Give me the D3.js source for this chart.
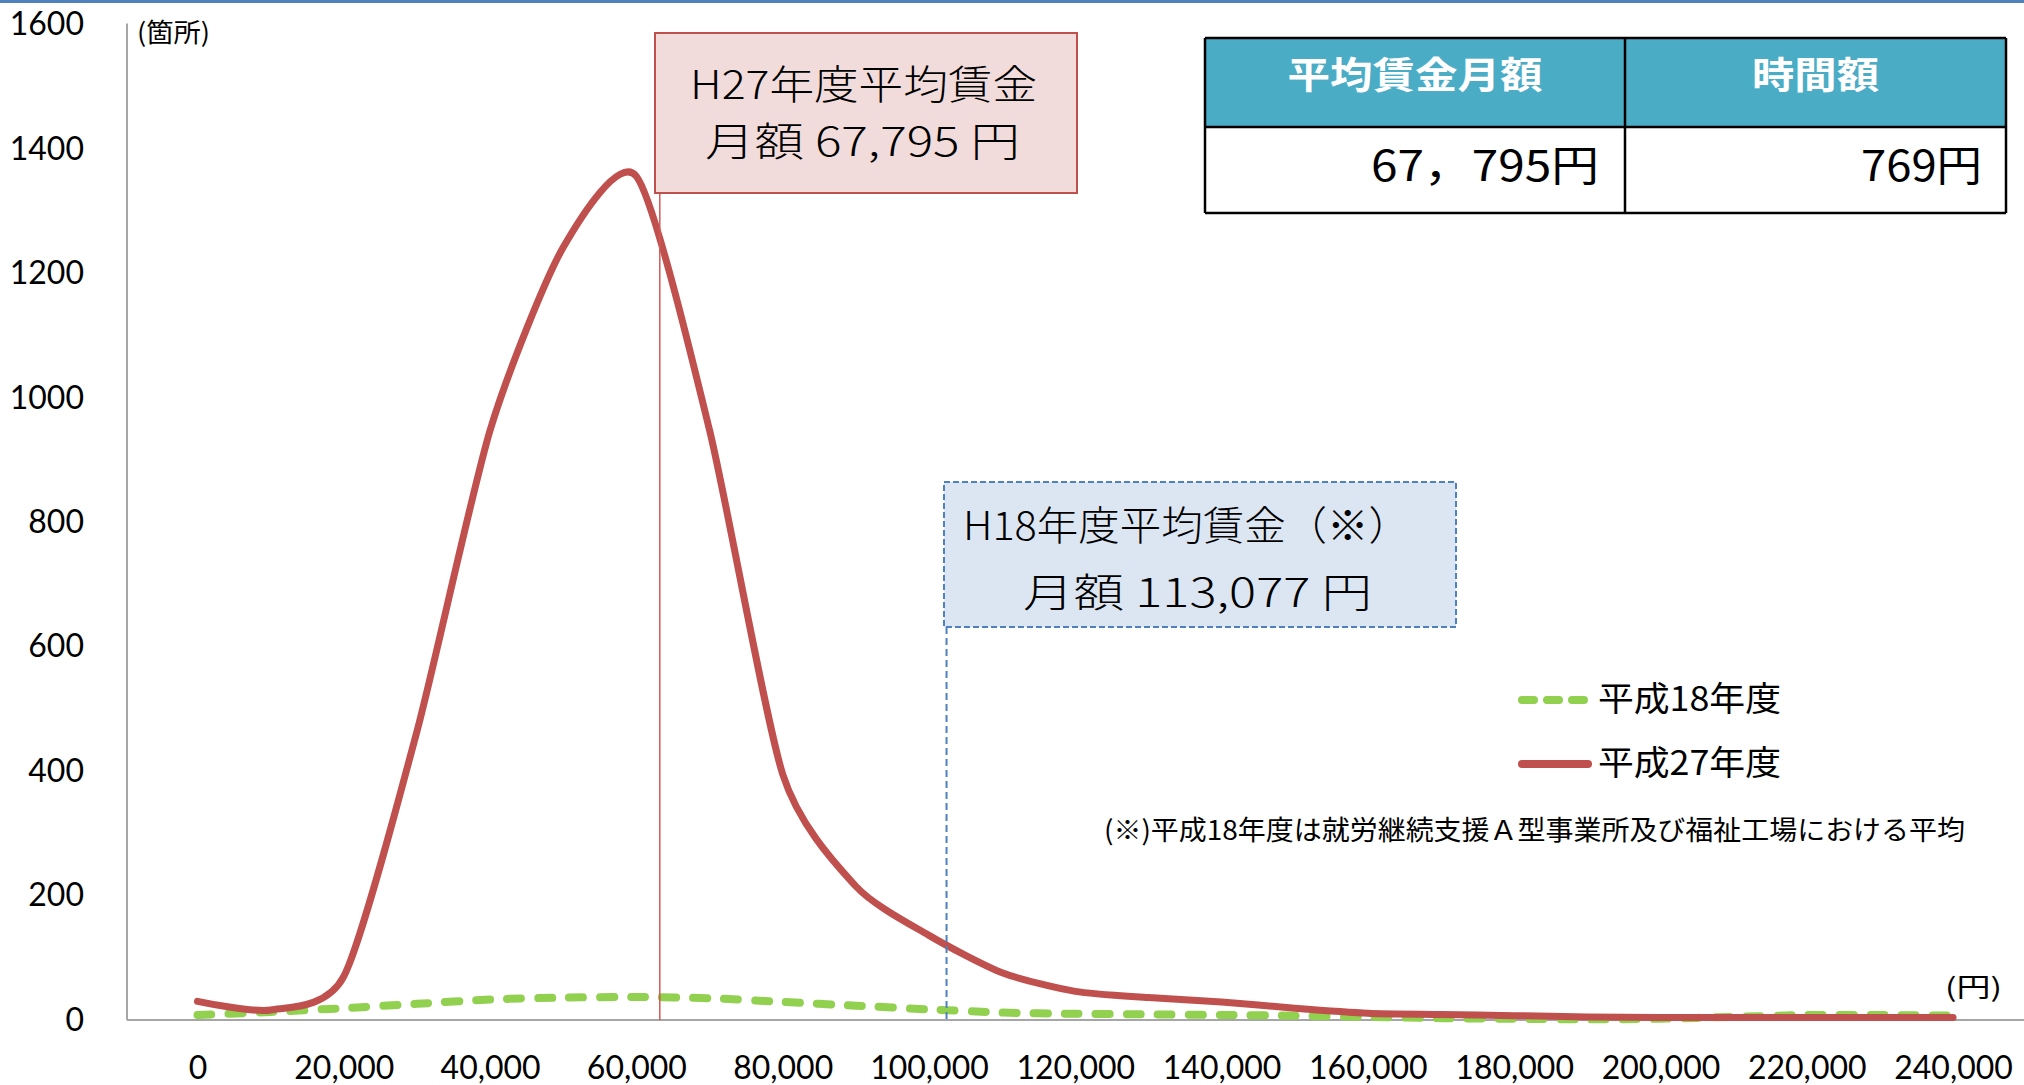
<!DOCTYPE html>
<html>
<head>
<meta charset="utf-8">
<script src="https://cdnjs.cloudflare.com/ajax/libs/d3/7.8.5/d3.min.js"></script>
<style>
  body { margin: 0; background: #fff; }
  svg { display: block; }
  .axis .tick text { font-family: Lato, "Liberation Sans", sans-serif; font-size: 32px; fill: #000; }
  .axis path { stroke: #a6a6a6; stroke-width: 2px; }
  .jp { font-family: "Noto Sans CJK JP", sans-serif; fill: #000; }
</style>
</head>
<body>
<svg id="chart"></svg>
<script>
// monthly wage steps (yen)
const wageSteps = [0, 10000, 20000, 30000, 40000, 50000, 60000, 70000, 80000, 90000, 100000, 110000,
  120000, 130000, 140000, 150000, 160000, 170000, 180000, 190000, 200000, 210000, 220000, 230000, 240000];
// number of offices
const seriesH27 = [30, 16, 70, 464, 948, 1242, 1356, 948, 395, 215, 136, 76,
  46, 36, 29, 19, 11, 9, 7, 5, 4, 4, 4, 4, 4];
const seriesH18 = [8, 13, 19, 26, 33, 36, 37, 35, 29, 23, 17, 12,
  10, 9, 8, 7, 5, 3, 2, 1, 2, 5, 8, 8, 7];
const seriesNames = ['平成18年度', '平成27年度'];
const yTicks = [0, 200, 400, 600, 800, 1000, 1200, 1400, 1600];
const xTicks = [0, 20000, 40000, 60000, 80000, 100000, 120000, 140000, 160000, 180000, 200000, 220000, 240000];
// where the average-marker lines sit on the wage axis
const markH27 = 63200;
const markH18 = 102400;
const tableHead = ['平均賃金月額', '時間額'];
const tableBody = ['67，795円', '769円'];

const W = 2024, H = 1085;
const svg = d3.select('#chart').attr('width', W).attr('height', H);

svg.append('rect').attr('width', W).attr('height', H).attr('fill', '#fff');
svg.append('rect').attr('width', W).attr('height', 3).attr('fill', '#4f81bd');

const x = d3.scaleLinear().domain([-9640, 249700]).range([127, 2024]);
const y = d3.scaleLinear().domain([0, 1600]).range([1020, 24.5]);

// axes
svg.append('g')
    .attr('class', 'axis')
    .attr('transform', `translate(0,${y(0)})`)
    .call(d3.axisBottom(x).tickValues(xTicks).tickSize(0).tickPadding(36).tickFormat(d3.format(',')))
    .call(g => g.select('.domain').attr('d', `M${x.range()[0]},0H${x.range()[1]}`));

svg.append('g')
    .attr('class', 'axis')
    .attr('transform', `translate(${x.range()[0]},0)`)
    .call(d3.axisLeft(y).tickValues(yTicks).tickSize(0).tickPadding(43).tickFormat(d3.format('d')))
    .call(g => g.select('.domain').attr('d', `M0,${y(0)}V${y(1600) - 1}`));

svg.append('text').attr('class', 'jp')
    .attr('x', 137).attr('y', 30).attr('dominant-baseline', 'central')
    .attr('font-size', 26).attr('textLength', 73).attr('lengthAdjust', 'spacingAndGlyphs')
    .text('(箇所)');
svg.append('text').attr('class', 'jp')
    .attr('x', 1945).attr('y', 985).attr('dominant-baseline', 'central')
    .attr('font-size', 26).attr('textLength', 57).attr('lengthAdjust', 'spacingAndGlyphs')
    .text('(円)');

// series
const line = d3.line()
    .x((d, i) => x(wageSteps[i]))
    .y(d => y(d))
    .curve(d3.curveCardinal.tension(0.3));

svg.append('path')
    .datum(seriesH18)
    .attr('d', line)
    .attr('fill', 'none')
    .attr('stroke', '#92d050')
    .attr('stroke-width', 8)
    .attr('stroke-linecap', 'round')
    .attr('stroke-dasharray', '14 17');

svg.append('path')
    .datum(seriesH27)
    .attr('d', line)
    .attr('fill', 'none')
    .attr('stroke', '#c0504d')
    .attr('stroke-width', 7)
    .attr('stroke-linecap', 'round')
    .attr('stroke-linejoin', 'round');

// average marker lines
svg.append('line')
    .attr('x1', x(markH27)).attr('x2', x(markH27))
    .attr('y1', 193).attr('y2', y(0))
    .attr('stroke', '#d05a57').attr('stroke-width', 1.5);

svg.append('line')
    .attr('x1', x(markH18)).attr('x2', x(markH18))
    .attr('y1', 627).attr('y2', y(0))
    .attr('stroke', '#4f81bd').attr('stroke-width', 2)
    .attr('stroke-dasharray', '7 4');

// annotation boxes
function note(bx, by, bw, bh, fill, stroke, dash, lines) {
  svg.append('rect')
      .attr('x', bx).attr('y', by).attr('width', bw).attr('height', bh)
      .attr('fill', fill).attr('stroke', stroke).attr('stroke-width', 2)
      .attr('stroke-dasharray', dash);
  lines.forEach(l => {
    svg.append('text').attr('class', 'jp')
        .attr('x', l.x).attr('y', l.y).attr('dominant-baseline', 'central')
        .attr('font-size', 40).attr('font-weight', 300)
        .attr('textLength', l.w).attr('lengthAdjust', 'spacingAndGlyphs')
        .text(l.t);
  });
}

note(655, 33, 422, 160, '#f2dcdb', '#c0504d', null, [
  {t: 'H27年度平均賃金', x: 690, y: 82, w: 347},
  {t: '月額 67,795 円', x: 705, y: 139, w: 315}
]);
note(944, 482, 512, 145, '#dce6f2', '#4f81bd', '6 3', [
  {t: 'H18年度平均賃金（※）', x: 963, y: 523, w: 447},
  {t: '月額 113,077 円', x: 1023, y: 590, w: 349}
]);

// legend
const legend = svg.append('g');
[{name: seriesNames[0], color: '#92d050', dash: '12 13', y: 700},
 {name: seriesNames[1], color: '#c0504d', dash: null, y: 764}].forEach(d => {
  legend.append('line')
      .attr('x1', 1522).attr('x2', 1588).attr('y1', d.y).attr('y2', d.y)
      .attr('stroke', d.color).attr('stroke-width', 8)
      .attr('stroke-linecap', 'round').attr('stroke-dasharray', d.dash);
  legend.append('text').attr('class', 'jp')
      .attr('x', 1598).attr('y', d.y - 4).attr('dominant-baseline', 'central')
      .attr('font-size', 34).attr('textLength', 183).attr('lengthAdjust', 'spacingAndGlyphs')
      .text(d.name);
});

svg.append('text').attr('class', 'jp')
    .attr('x', 1104).attr('y', 828).attr('dominant-baseline', 'central')
    .attr('font-size', 27).attr('textLength', 861).attr('lengthAdjust', 'spacingAndGlyphs')
    .text('(※)平成18年度は就労継続支援Ａ型事業所及び福祉工場における平均');

// summary table
const cols = [1205, 1625, 2006];
const rows = [38, 127, 213];
const table = svg.append('g');
table.append('rect')
    .attr('x', cols[0]).attr('y', rows[0])
    .attr('width', cols[2] - cols[0]).attr('height', rows[1] - rows[0])
    .attr('fill', '#4bacc6');
table.append('rect')
    .attr('x', cols[0]).attr('y', rows[1])
    .attr('width', cols[2] - cols[0]).attr('height', rows[2] - rows[1])
    .attr('fill', '#fff');
rows.forEach(r => table.append('line').attr('x1', cols[0]).attr('x2', cols[2])
    .attr('y1', r).attr('y2', r).attr('stroke', '#000').attr('stroke-width', 2.5));
cols.forEach(c => table.append('line').attr('x1', c).attr('x2', c)
    .attr('y1', rows[0]).attr('y2', rows[2]).attr('stroke', '#000').attr('stroke-width', 2.5));

const headW = [255, 127];
tableHead.forEach((t, i) => {
  table.append('text').attr('class', 'jp')
      .attr('x', (cols[i] + cols[i + 1]) / 2).attr('y', 73)
      .attr('text-anchor', 'middle').attr('dominant-baseline', 'central')
      .attr('font-size', 37).attr('font-weight', 700).style('fill', '#fff')
      .attr('textLength', headW[i]).attr('lengthAdjust', 'spacingAndGlyphs')
      .text(t);
});
const bodyW = [228, 121];
const bodyRight = [1599, 1982];
tableBody.forEach((t, i) => {
  table.append('text').attr('class', 'jp')
      .attr('x', bodyRight[i] - bodyW[i]).attr('y', 162)
      .attr('dominant-baseline', 'central')
      .attr('font-size', 42)
      .attr('textLength', bodyW[i]).attr('lengthAdjust', 'spacingAndGlyphs')
      .text(t);
});
</script>
</body>
</html>
